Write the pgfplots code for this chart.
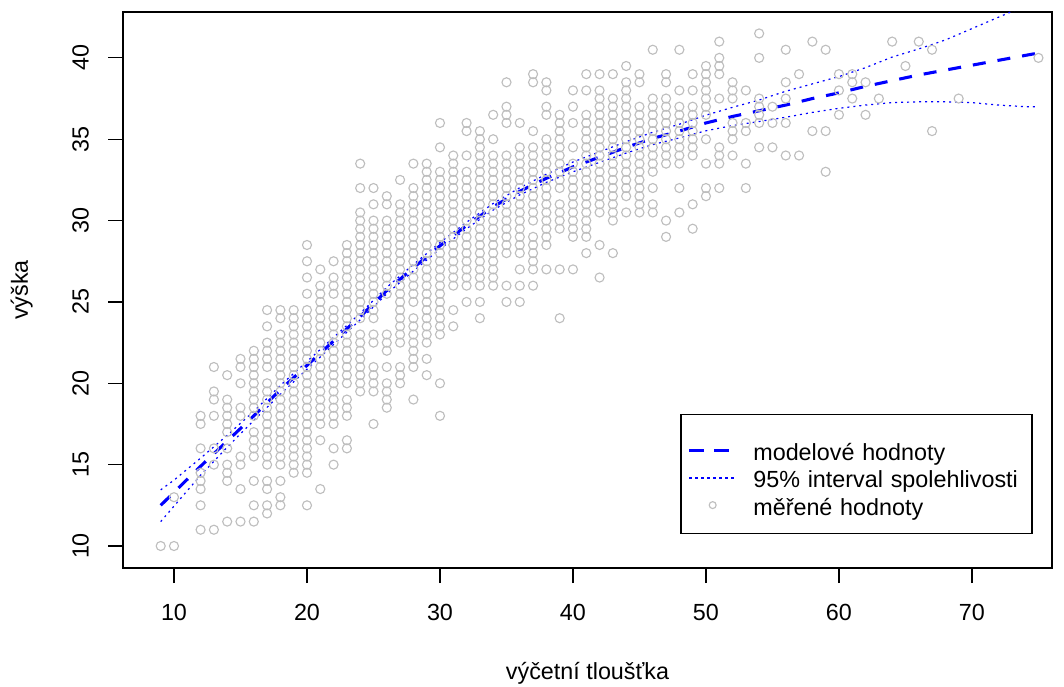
\documentclass[border=0pt]{standalone}
\usepackage{fontspec}
\setmainfont{Liberation Sans}
\usepackage{pgfplots}
\pgfplotsset{compat=1.18}
\definecolor{rgray}{RGB}{190,190,190}
\begin{document}
\fontsize{17.5}{21}\selectfont
\begin{tikzpicture}
\path[use as bounding box] (-92.25pt,-88.5pt) rectangle (705.75pt,426pt);
\begin{axis}[
  at={(0,0)}, anchor=south west,
  scale only axis, width=696.75pt, height=417pt,
  xmin=6.165, xmax=76.02, ymin=8.648, ymax=42.82,
  xtick={10,20,...,70}, ytick={10,15,...,40},
  xtick pos=bottom, ytick pos=left,
  tick align=outside, major tick length=11.25pt,
  every tick/.style={black, line width=0.9pt},
  axis line style={line width=1pt},
  /pgf/number format/assume math mode=true,
  tick label style={font=\fontsize{17.5}{21}\selectfont},
  xticklabel style={anchor=base, inner sep=0pt},
  yticklabel style={rotate=90, anchor=base, inner sep=0pt},
  xticklabel shift=28.2pt,
  yticklabel shift=14.5pt,
  xlabel={výčetní tloušťka}, ylabel={výška},
  label style={font=\fontsize{17.5}{21}\selectfont},
  xlabel style={at={(axis description cs:0.5,0)}, anchor=base, yshift=-83.25pt, inner sep=0pt},
  ylabel style={at={(axis description cs:-0.1023,0.5)}, anchor=base, inner sep=0pt},
  legend cell align=left,
  legend style={at={(0.9792,0.0612)}, anchor=south east, draw=black, line width=1pt, fill=white,
    inner xsep=5pt, inner ysep=10pt, row sep=4.2pt, font=\fontsize{17.5}{21}\selectfont,
    nodes={inner sep=0pt, text height=12.6pt, text depth=3.7pt, text width=204pt, align=left}},
]
\addplot[only marks, mark=o, mark size=3.4pt, rgray, mark options={line width=0.85pt}, forget plot] coordinates {
(9,10)
(10,10)(10,13)
(12,11)(12,12.5)(12,13.5)(12,14)(12,14.5)(12,16)(12,17.5)(12,18)
(13,11)(13,15)(13,16)(13,18)(13,19)(13,19.5)(13,21)
(14,11.5)(14,14)(14,14.5)(14,15)(14,16)(14,17)(14,17.5)(14,18)(14,18.5)(14,19)(14,20.5)
(15,11.5)(15,13.5)(15,15)(15,15.5)(15,18)(15,18.5)(15,20)(15,21)(15,21.5)
(16,11.5)(16,12.5)(16,14)(16,15.5)(16,16)(16,16.5)(16,17)(16,18)(16,18.5)(16,19)(16,19.5)(16,20)(16,20.5)(16,21)(16,21.5)(16,22)
(17,12)(17,12.5)(17,13.5)(17,14)(17,15)(17,15.5)(17,16)(17,16.5)(17,17)(17,17.5)(17,18)(17,18.5)(17,19)(17,19.5)(17,20)(17,21)(17,21.5)(17,22)(17,22.5)(17,23.5)(17,24.5)
(18,12.5)(18,13)(18,14)(18,15)(18,15.5)(18,16)(18,16.5)(18,17)(18,17.5)(18,18)(18,18.5)(18,19)(18,19.5)(18,20)(18,20.5)(18,21)(18,21.5)(18,22)(18,22.5)(18,23)(18,24)(18,24.5)
(19,14.5)(19,15)(19,15.5)(19,16)(19,16.5)(19,17)(19,17.5)(19,18)(19,18.5)(19,19)(19,19.5)(19,20)(19,20.5)(19,21)(19,21.5)(19,22)(19,22.5)(19,23)(19,23.5)(19,24)(19,24.5)
(20,12.5)(20,14.5)(20,15)(20,15.5)(20,16)(20,16.5)(20,17)(20,17.5)(20,18)(20,18.5)(20,19)(20,19.5)(20,20)(20,20.5)(20,21)(20,21.5)(20,22)(20,22.5)(20,23)(20,23.5)(20,24)(20,24.5)(20,25.5)(20,26.5)(20,27.5)(20,28.5)
(21,13.5)(21,16.5)(21,17.5)(21,18)(21,18.5)(21,19)(21,19.5)(21,20)(21,20.5)(21,21)(21,21.5)(21,22)(21,22.5)(21,23)(21,23.5)(21,24)(21,24.5)(21,25)(21,25.5)(21,26)(21,27)
(22,15)(22,16)(22,17.5)(22,18)(22,18.5)(22,19)(22,19.5)(22,20)(22,20.5)(22,21)(22,21.5)(22,22)(22,22.5)(22,23)(22,23.5)(22,24)(22,24.5)(22,25.5)(22,26)(22,26.5)(22,27.5)
(23,16)(23,16.5)(23,18)(23,18.5)(23,19)(23,20)(23,20.5)(23,21)(23,21.5)(23,22)(23,22.5)(23,23)(23,23.5)(23,24)(23,24.5)(23,25)(23,25.5)(23,26)(23,26.5)(23,27)(23,27.5)(23,28)(23,28.5)
(24,19.5)(24,20)(24,20.5)(24,21)(24,21.5)(24,22)(24,22.5)(24,23)(24,24)(24,24.5)(24,25)(24,25.5)(24,26)(24,26.5)(24,27)(24,27.5)(24,28)(24,28.5)(24,29)(24,29.5)(24,30)(24,30.5)(24,32)(24,33.5)
(25,17.5)(25,19.5)(25,20)(25,20.5)(25,21)(25,22.5)(25,23)(25,24)(25,24.5)(25,25)(25,25.5)(25,26)(25,26.5)(25,27)(25,27.5)(25,28)(25,28.5)(25,29)(25,29.5)(25,30)(25,31)(25,32)
(26,18.5)(26,19)(26,19.5)(26,20)(26,21)(26,22)(26,22.5)(26,23)(26,25.5)(26,26)(26,26.5)(26,27)(26,27.5)(26,28)(26,28.5)(26,29)(26,29.5)(26,30)(26,31)(26,31.5)
(27,20)(27,20.5)(27,21)(27,22.5)(27,23)(27,23.5)(27,24)(27,24.5)(27,25)(27,25.5)(27,26)(27,26.5)(27,27)(27,27.5)(27,28)(27,28.5)(27,29)(27,29.5)(27,30)(27,30.5)(27,31)(27,32.5)
(28,19)(28,21)(28,21.5)(28,22)(28,22.5)(28,23)(28,23.5)(28,24)(28,25)(28,25.5)(28,26)(28,26.5)(28,27)(28,27.5)(28,28)(28,28.5)(28,29)(28,29.5)(28,30)(28,30.5)(28,31)(28,31.5)(28,32)(28,33.5)
(29,20.5)(29,21.5)(29,22.5)(29,23)(29,23.5)(29,24)(29,24.5)(29,25)(29,25.5)(29,26)(29,26.5)(29,27)(29,27.5)(29,28)(29,28.5)(29,29)(29,29.5)(29,30)(29,30.5)(29,31)(29,31.5)(29,32)(29,32.5)(29,33)(29,33.5)
(30,18)(30,20)(30,23)(30,23.5)(30,24)(30,24.5)(30,25)(30,25.5)(30,26)(30,26.5)(30,27)(30,27.5)(30,28)(30,28.5)(30,29)(30,29.5)(30,30)(30,30.5)(30,31)(30,31.5)(30,32)(30,32.5)(30,33)(30,34.5)(30,36)
(31,23.5)(31,24.5)(31,26)(31,26.5)(31,27)(31,27.5)(31,28)(31,28.5)(31,29)(31,29.5)(31,30)(31,30.5)(31,31)(31,31.5)(31,32)(31,32.5)(31,33)(31,33.5)(31,34)
(32,25)(32,26)(32,26.5)(32,27)(32,27.5)(32,28)(32,28.5)(32,29)(32,29.5)(32,30)(32,30.5)(32,31)(32,31.5)(32,32)(32,32.5)(32,33)(32,34)(32,35.5)(32,36)
(33,24)(33,25)(33,26)(33,26.5)(33,27)(33,27.5)(33,28)(33,28.5)(33,29)(33,29.5)(33,30)(33,30.5)(33,31)(33,31.5)(33,32)(33,32.5)(33,33)(33,33.5)(33,34)(33,34.5)(33,35)(33,35.5)
(34,26)(34,26.5)(34,27)(34,27.5)(34,28)(34,28.5)(34,29)(34,29.5)(34,30)(34,30.5)(34,31)(34,31.5)(34,32)(34,32.5)(34,33)(34,33.5)(34,34)(34,35)(34,36.5)
(35,25)(35,26)(35,28)(35,28.5)(35,29)(35,29.5)(35,30)(35,30.5)(35,31)(35,31.5)(35,32)(35,32.5)(35,33)(35,33.5)(35,34)(35,36)(35,36.5)(35,37)(35,38.5)
(36,25)(36,26)(36,27)(36,28)(36,28.5)(36,29)(36,29.5)(36,30)(36,30.5)(36,31)(36,31.5)(36,32)(36,32.5)(36,33)(36,33.5)(36,34)(36,34.5)(36,36)
(37,26)(37,27)(37,27.5)(37,28)(37,28.5)(37,29)(37,30)(37,30.5)(37,31)(37,31.5)(37,32)(37,32.5)(37,33)(37,33.5)(37,34)(37,34.5)(37,35.5)(37,38.5)(37,39)
(38,27)(38,28.5)(38,29)(38,29.5)(38,30)(38,30.5)(38,31)(38,31.5)(38,32)(38,32.5)(38,33)(38,33.5)(38,34)(38,34.5)(38,35)(38,36.5)(38,37)(38,38)(38,38.5)
(39,24)(39,27)(39,29.5)(39,30)(39,30.5)(39,31)(39,32)(39,32.5)(39,33)(39,33.5)(39,34)(39,34.5)(39,35)(39,35.5)(39,36)(39,36.5)
(40,27)(40,29)(40,29.5)(40,30)(40,30.5)(40,31)(40,31.5)(40,32)(40,32.5)(40,33)(40,33.5)(40,34.5)(40,36)(40,37)(40,38)
(41,28)(41,29)(41,29.5)(41,30)(41,30.5)(41,31)(41,31.5)(41,32)(41,32.5)(41,33)(41,33.5)(41,34)(41,34.5)(41,35)(41,35.5)(41,36)(41,36.5)(41,38)(41,39)
(42,26.5)(42,28.5)(42,30.5)(42,31)(42,31.5)(42,32)(42,32.5)(42,33)(42,33.5)(42,34)(42,34.5)(42,35)(42,35.5)(42,36)(42,36.5)(42,37)(42,37.5)(42,38)(42,39)
(43,28)(43,30)(43,30.5)(43,31)(43,31.5)(43,32)(43,32.5)(43,33)(43,33.5)(43,34)(43,34.5)(43,35)(43,35.5)(43,36)(43,36.5)(43,37)(43,37.5)(43,39)
(44,30.5)(44,31.5)(44,32)(44,32.5)(44,33)(44,33.5)(44,34)(44,34.5)(44,35)(44,35.5)(44,36)(44,36.5)(44,37)(44,37.5)(44,38)(44,38.5)(44,39.5)
(45,30.5)(45,31)(45,31.5)(45,32)(45,32.5)(45,33)(45,33.5)(45,34)(45,34.5)(45,35)(45,35.5)(45,36)(45,36.5)(45,37)(45,38.5)(45,39)
(46,30.5)(46,31)(46,32)(46,33)(46,33.5)(46,34)(46,34.5)(46,35)(46,35.5)(46,36)(46,36.5)(46,37)(46,37.5)(46,40.5)
(47,29)(47,30)(47,33.5)(47,34)(47,34.5)(47,35)(47,35.5)(47,36)(47,36.5)(47,37)(47,37.5)(47,38.5)(47,39)
(48,30.5)(48,32)(48,33.5)(48,34)(48,34.5)(48,35)(48,35.5)(48,36)(48,36.5)(48,37)(48,38)(48,40.5)
(49,29.5)(49,31)(49,34)(49,34.5)(49,35)(49,35.5)(49,36)(49,36.5)(49,37)(49,38)(49,39)
(50,31.5)(50,32)(50,33.5)(50,35)(50,36.5)(50,37)(50,37.5)(50,38)(50,38.5)(50,39)(50,39.5)
(51,32)(51,33.5)(51,34)(51,34.5)(51,37.5)(51,39)(51,39.5)(51,40)(51,41)
(52,34)(52,35)(52,35.5)(52,36)(52,37.5)(52,38)(52,38.5)
(53,32)(53,33.5)(53,35.5)(53,36)(53,38)
(54,34.5)(54,36)(54,36.5)(54,37)(54,37.5)(54,40)(54,41.5)
(55,34.5)(55,36)(55,37)
(56,34)(56,36)(56,37.5)(56,38.5)(56,40.5)
(57,34)(57,39)
(58,35.5)(58,41)
(59,33)(59,35.5)(59,40.5)
(60,36.5)(60,38)(60,39)
(61,37.5)(61,38.5)(61,39)
(62,36.5)(62,38.5)
(63,37.5)(64,41)(65,39.5)(66,41)
(67,35.5)(67,40.5)
(69,37.5)(75,40)
};
\addplot[blue, line width=0.9pt, dash pattern=on 1.5pt off 3pt, forget plot] coordinates {
(9,13.45)(10,14.05)(12,15.4)(14,16.8)(16,18.28)(18,19.87)(20,21.34)(22,22.82)(24,24.3)(26,25.9)(28,27.3)(30,28.65)(32,29.9)(34,31.05)(36,32.02)(38,32.85)(40,33.6)(42,34.22)(44,34.85)(46,35.43)(48,35.92)(50,36.48)(52,36.96)(54,37.41)(56,37.95)(58,38.4)(60,38.85)(62,39.4)(64,40.05)(66,40.55)(68,41.1)(70,41.8)(72,42.5)(74,43.2)
};
\addplot[blue, line width=0.9pt, dash pattern=on 1.5pt off 3pt, forget plot] coordinates {
(9,11.5)(10,12.45)(12,14.35)(14,16.07)(16,17.72)(18,19.33)(20,20.86)(22,22.38)(24,23.9)(26,25.5)(28,26.9)(30,28.25)(32,29.5)(34,30.65)(36,31.58)(38,32.35)(40,33.0)(42,33.58)(44,34.15)(46,34.67)(48,35.08)(50,35.52)(52,35.84)(54,36.09)(56,36.35)(58,36.65)(60,36.9)(62,37.1)(64,37.25)(66,37.3)(68,37.3)(70,37.25)(72,37.1)(74,37.0)(75,37.0)
};
\addplot[blue, line width=2.3pt, dash pattern=on 9.75pt off 9pt, forget plot] coordinates {
(9,12.5)(10,13.3)(12,14.9)(14,16.45)(16,18.0)(18,19.6)(20,21.1)(22,22.6)(24,24.1)(26,25.7)(28,27.1)(30,28.45)(32,29.7)(34,30.85)(36,31.8)(38,32.6)(40,33.3)(42,33.9)(44,34.5)(46,35.05)(48,35.5)(50,36.0)(52,36.4)(54,36.75)(56,37.1)(58,37.5)(60,37.85)(62,38.25)(64,38.6)(66,38.95)(68,39.25)(70,39.55)(72,39.85)(74,40.15)(75,40.3)
};
\addlegendimage{legend image code/.code={\draw[draw=blue, line width=2.3pt, dash pattern=on 11.25pt off 7.5pt] (0pt,3pt) -- (30pt,3pt); \path[draw=none] (0pt,0pt) -- (48pt,0pt) (0pt,20pt);}}
\addlegendentry{modelové hodnoty}
\addlegendimage{legend image code/.code={\draw[draw=blue, line width=1.2pt, dash pattern=on 2pt off 2.5pt] (0pt,3pt) -- (35pt,3pt); \path[draw=none] (0pt,0pt) -- (48pt,0pt);}}
\addlegendentry{95\% interval spolehlivosti}
\addlegendimage{legend image code/.code={\draw[draw=rgray, line width=0.85pt] (17.5pt,3pt) circle (2.6pt); \path[draw=none] (0pt,0pt) -- (48pt,0pt);}}
\addlegendentry{měřené hodnoty}
\end{axis}
\end{tikzpicture}
\end{document}
